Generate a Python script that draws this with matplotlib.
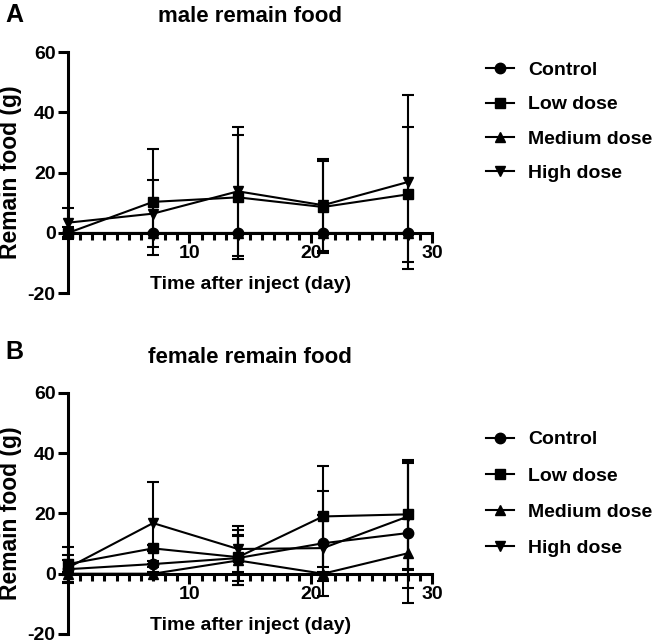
import numpy as np
import matplotlib
matplotlib.use('Agg')
import matplotlib.pyplot as plt
from matplotlib.lines import Line2D
from matplotlib.ticker import MultipleLocator, FixedLocator

plt.rcParams['font.family'] = ['Liberation Sans', 'DejaVu Sans']
plt.rcParams['font.weight'] = 'bold'
plt.rcParams['axes.unicode_minus'] = False

# ------------------------------------------------------------
# data
# ------------------------------------------------------------
days = [0, 7, 14, 21, 28]
groups = ['Control', 'Low dose', 'Medium dose', 'High dose']
markers = ['o', 's', '^', 'v']

male_control = [0, 0, 0, 0, 0]
male_control_sd = [0, 0, 0, 0, 0]
male_low = [0, 10.3, 11.8, 8.6, 12.8]
male_low_sd = [2.1, 17.5, 20.6, 15.3, 22.3]
male_medium = [0, 0, 0, 0, 0]
male_medium_sd = [0, 0, 0, 0, 0]
male_high = [3.4, 6.4, 13.8, 9.2, 16.9]
male_high_sd = [4.8, 11.0, 21.5, 15.3, 29.0]

female_control = [1.5, 3.2, 5.2, 10.1, 13.5]
female_control_sd = [4.7, 1.0, 7.7, 17.4, 23.2]
female_low = [3.2, 8.4, 5.5, 19.0, 19.7]
female_low_sd = [5.8, 1.0, 9.1, 16.7, 18.0]
female_medium = [0, 0, 4.4, 0, 6.8]
female_medium_sd = [0.5, 0.5, 8.2, 0.5, 11.5]
female_high = [2.0, 16.8, 8.2, 8.5, 19.0]
female_high_sd = [2.5, 13.7, 7.5, 11.0, 17.9]

male_means = [male_control, male_low, male_medium, male_high]
male_sds = [male_control_sd, male_low_sd, male_medium_sd, male_high_sd]
female_means = [female_control, female_low, female_medium, female_high]
female_sds = [female_control_sd, female_low_sd, female_medium_sd, female_high_sd]


def draw_panel(ax, means, sds, title, legend_y, legend_gap):
    for name, mk, m, s in zip(groups, markers, means, sds):
        ax.errorbar(days, m, yerr=s, color='black', marker=mk, markersize=7.5,
                    lw=1.5, elinewidth=1.5, capsize=4.3, capthick=1.5,
                    clip_on=False, zorder=3)
    ax.set_xlim(0, 30)
    ax.set_ylim(-20, 60)
    ax.spines['top'].set_visible(False)
    ax.spines['right'].set_visible(False)
    ax.spines['bottom'].set_position(('data', 0))
    ax.spines['left'].set_linewidth(2.2)
    ax.spines['bottom'].set_linewidth(2.2)
    ax.xaxis.set_major_locator(FixedLocator([10, 20, 30]))
    ax.xaxis.set_minor_locator(MultipleLocator(1))
    ax.yaxis.set_major_locator(MultipleLocator(20))
    ax.tick_params(axis='both', which='major', direction='out', length=7,
                   width=2.2, labelsize=14, pad=2)
    ax.tick_params(axis='x', which='minor', direction='out', length=5, width=2.2)
    ax.set_ylabel('Remain food (g)', fontsize=16.5, fontweight='bold')
    ax.yaxis.set_label_coords(-0.125, 0.5)
    ax.set_xlabel('Time after inject (day)', fontsize=14, fontweight='bold')
    ax.xaxis.set_label_coords(0.5, 0.0)
    ax.xaxis.label.set_va('bottom')
    ax.set_title(title, fontsize=16, fontweight='bold', pad=21.5)
    for lab in ax.get_xticklabels() + ax.get_yticklabels():
        lab.set_fontweight('bold')
    handles = [Line2D([], [], color='black', marker=mk, markersize=7.5, lw=1.5)
               for mk in markers]
    ax.legend(handles, groups, loc='upper left', bbox_to_anchor=(1.127, legend_y),
              frameon=False, fontsize=14, handlelength=1.4, labelspacing=legend_gap,
              handletextpad=0.75, borderaxespad=0)


fig = plt.figure(figsize=(6.54, 6.43), dpi=100)
ax1 = fig.add_axes([0.104, 0.544, 0.557, 0.375])
ax2 = fig.add_axes([0.104, 0.014, 0.557, 0.375])

draw_panel(ax1, male_means, male_sds, 'male remain food', 0.993, 0.86)
draw_panel(ax2, female_means, female_sds, 'female remain food', 0.875, 0.96)

fig.text(0.008, 0.977, 'A', fontsize=18, fontweight='bold', va='center')
fig.text(0.008, 0.453, 'B', fontsize=18, fontweight='bold', va='center')

fig.savefig('out.png', dpi=100)
